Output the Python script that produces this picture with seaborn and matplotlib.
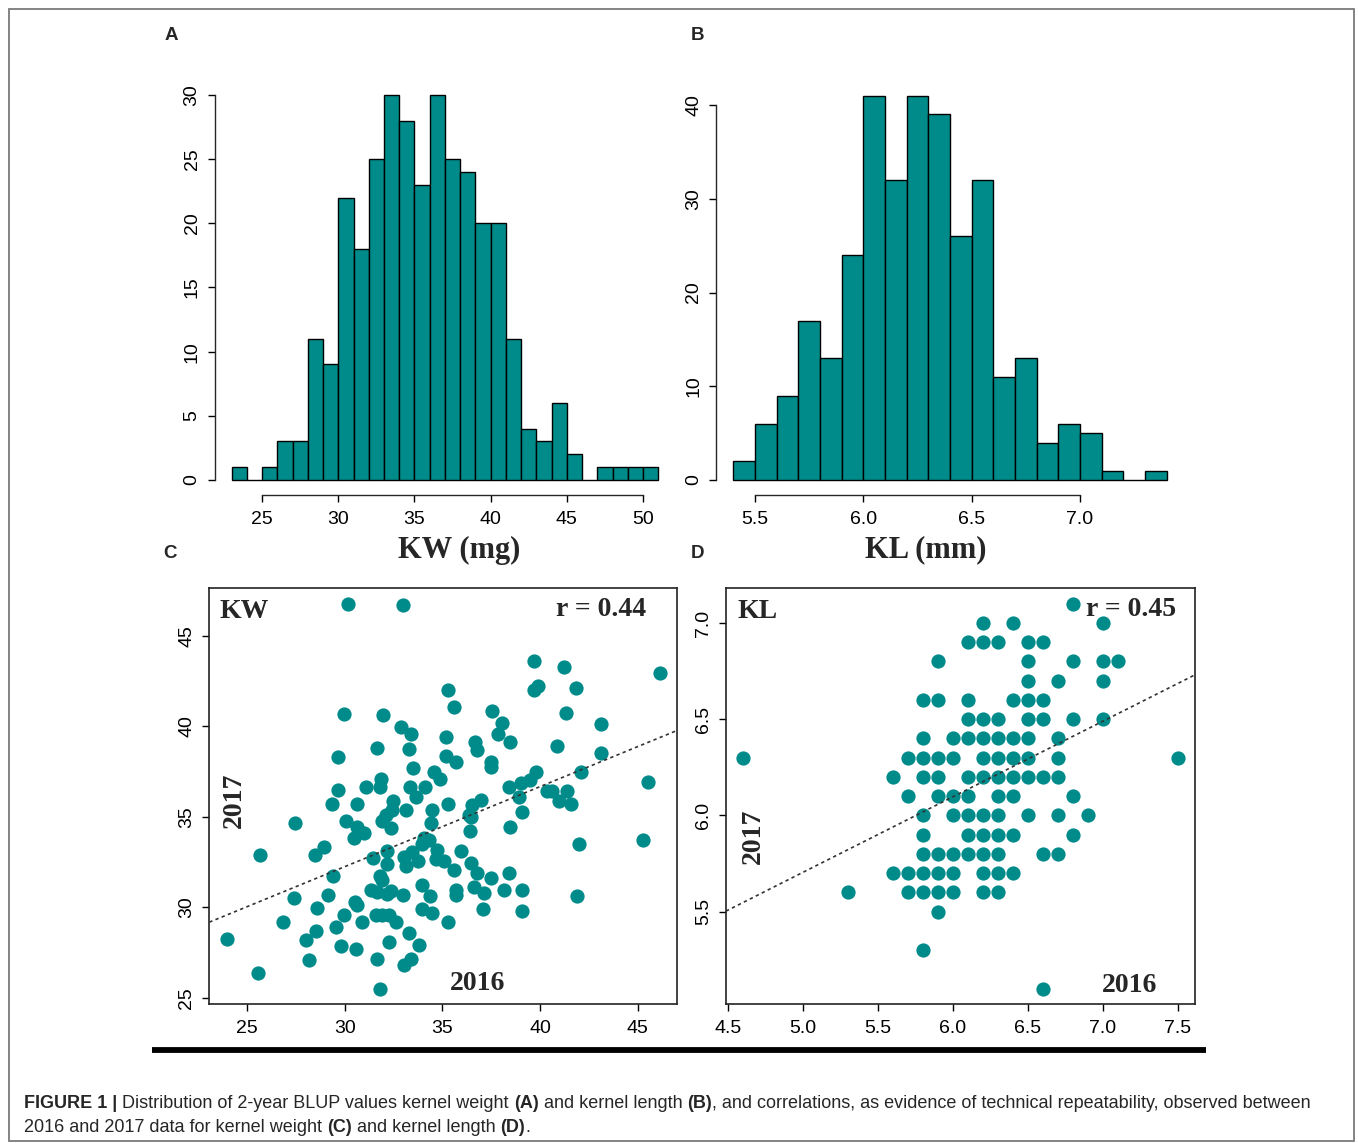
import numpy as np
import pandas as pd
import matplotlib
matplotlib.use("Agg")
import matplotlib.pyplot as plt
import seaborn as sns
from matplotlib.lines import Line2D
from matplotlib.patches import Rectangle
from matplotlib import font_manager

# ---------------- data ----------------
# Panel A: kernel weight histogram (bin width 1 mg)
kw_bin_edges = [23, 24, 25, 26, 27, 28, 29, 30, 31, 32, 33, 34, 35, 36, 37,
                38, 39, 40, 41, 42, 43, 44, 45, 46, 47, 48, 49, 50, 51]
kw_counts = [1, 0, 1, 3, 3, 11, 9, 22, 18, 25, 30, 28, 23, 30, 25, 24, 20, 20,
             11, 4, 3, 6, 2, 0, 1, 1, 1, 1]
kw_xticks = [25, 30, 35, 40, 45, 50]
kw_yticks = [0, 5, 10, 15, 20, 25, 30]

# Panel B: kernel length histogram (bin width 0.1 mm)
kl_bin_edges = [5.4, 5.5, 5.6, 5.7, 5.8, 5.9, 6.0, 6.1, 6.2, 6.3, 6.4, 6.5,
                6.6, 6.7, 6.8, 6.9, 7.0, 7.1, 7.2, 7.3, 7.4]
kl_counts = [2, 6, 9, 17, 13, 24, 41, 32, 41, 39, 26, 32, 11, 13, 4, 6, 5, 1, 0, 1]
kl_xticks = [5.5, 6.0, 6.5, 7.0]
kl_yticks = [0, 10, 20, 30, 40]

# Panel C: KW 2016 vs 2017
kw_2016 = [30.17, 33.00, 39.69, 41.23, 46.14, 35.29, 39.69, 39.90, 41.83, 35.60,
           37.56, 41.31, 29.97, 31.95, 32.87, 33.38, 38.07, 43.11, 35.20, 36.67,
           38.46, 37.85, 31.67, 33.29, 36.79, 40.89, 43.11, 29.66, 35.20, 35.68,
           37.47, 37.47, 31.88, 33.48, 34.57, 34.88, 39.78, 42.08, 31.08, 31.79,
           33.33, 34.10, 38.41, 39.01, 39.49, 40.38, 40.63, 41.40, 45.53, 29.66,
           33.63, 32.49, 30.65, 29.37, 35.29, 36.96, 36.54, 38.92, 40.97, 41.60,
           33.12, 34.49, 32.44, 32.10, 39.10, 36.37, 36.45, 30.05, 27.46, 31.93,
           34.40, 30.65, 32.35, 30.99, 30.48, 38.46, 36.42, 34.06, 34.32, 45.29,
           42.00, 33.94, 34.74, 35.97, 28.94, 28.46, 25.67, 32.18, 33.46, 31.47,
           33.04, 34.66, 35.09, 33.75, 32.18, 33.12, 36.45, 29.42, 31.81, 31.93,
           35.60, 36.79, 38.41, 37.47, 29.15, 27.41, 31.33, 31.67, 32.35, 32.18,
           32.99, 33.98, 34.37, 35.68, 35.68, 36.62, 37.13, 38.16, 39.06, 41.91,
           28.57, 30.53, 30.65, 29.97, 33.98, 34.49, 37.10, 39.06, 26.84, 31.59,
           31.93, 32.27, 32.61, 30.87, 29.57, 35.29, 23.96, 28.52, 28.00, 33.29,
           32.27, 29.80, 33.81, 30.56, 28.17, 31.64, 33.38, 33.04, 25.58, 31.79]
kw_2017 = [46.77, 46.70, 43.58, 43.30, 42.97, 42.01, 42.01, 42.24, 42.11, 41.06,
           40.82, 40.72, 40.69, 40.63, 39.95, 39.58, 40.21, 40.12, 39.40, 39.16,
           39.16, 39.58, 38.79, 38.73, 38.70, 38.92, 38.51, 38.29, 38.38, 38.02,
           38.05, 37.78, 37.09, 37.68, 37.50, 37.09, 37.50, 37.50, 36.67, 36.63,
           36.67, 36.63, 36.67, 36.89, 37.04, 36.43, 36.43, 36.43, 36.91, 36.49,
           36.12, 35.90, 35.71, 35.71, 35.71, 35.93, 35.66, 36.12, 35.90, 35.71,
           35.38, 35.38, 35.38, 35.10, 35.29, 35.10, 34.97, 34.79, 34.68, 34.79,
           34.68, 34.42, 34.37, 34.09, 33.81, 34.42, 34.24, 33.81, 33.72, 33.72,
           33.48, 33.50, 33.17, 33.13, 33.32, 32.89, 32.89, 33.13, 33.08, 32.71,
           32.80, 32.65, 32.58, 32.58, 32.39, 32.28, 32.43, 31.73, 31.73, 31.51,
           32.06, 31.88, 31.88, 31.60, 30.68, 30.50, 30.99, 30.86, 30.92, 30.77,
           30.68, 31.23, 30.62, 30.96, 30.68, 31.14, 30.81, 30.96, 30.96, 30.62,
           29.98, 30.31, 30.13, 29.57, 29.94, 29.67, 29.94, 29.81, 29.21, 29.57,
           29.57, 29.57, 29.21, 29.21, 28.93, 29.21, 28.28, 28.71, 28.19, 28.60,
           28.10, 27.86, 27.92, 27.68, 27.09, 27.18, 27.18, 26.81, 26.39, 25.52]
kw_fit = [18.99, 0.442]          # intercept, slope of the dotted trend line
kw_scatter_ticks = [25, 30, 35, 40, 45]

# Panel D: KL 2016 vs 2017
kl_2016 = [6.8,
           6.2, 6.4, 7.0,
           6.1, 6.2, 6.3, 6.5, 6.6,
           5.9, 6.5, 6.8, 7.0, 7.1,
           6.5, 6.7, 7.0,
           5.8, 5.9, 6.1, 6.4, 6.5, 6.6,
           6.1, 6.2, 6.3, 6.5, 6.6, 6.8, 7.0,
           5.8, 6.0, 6.1, 6.2, 6.3, 6.4, 6.5, 6.7,
           4.6, 5.7, 5.8, 5.9, 6.0, 6.2, 6.3, 6.4, 6.5, 6.7, 7.5,
           5.6, 5.8, 5.9, 6.1, 6.2, 6.3, 6.4, 6.5, 6.6, 6.7,
           5.7, 5.9, 6.0, 6.1, 6.3, 6.4, 6.8,
           5.8, 6.0, 6.1, 6.2, 6.3, 6.5, 6.7, 6.9,
           5.8, 6.1, 6.2, 6.3, 6.4, 6.8,
           5.8, 5.9, 6.0, 6.1, 6.2, 6.3, 6.6, 6.7,
           5.6, 5.7, 5.8, 5.9, 6.0, 6.2, 6.3, 6.4,
           5.3, 5.7, 5.8, 5.9, 6.0, 6.2, 6.3,
           5.9,
           5.8,
           6.6]
kl_2017 = [7.1,
           7.0, 7.0, 7.0,
           6.9, 6.9, 6.9, 6.9, 6.9,
           6.8, 6.8, 6.8, 6.8, 6.8,
           6.7, 6.7, 6.7,
           6.6, 6.6, 6.6, 6.6, 6.6, 6.6,
           6.5, 6.5, 6.5, 6.5, 6.5, 6.5, 6.5,
           6.4, 6.4, 6.4, 6.4, 6.4, 6.4, 6.4, 6.4,
           6.3, 6.3, 6.3, 6.3, 6.3, 6.3, 6.3, 6.3, 6.3, 6.3, 6.3,
           6.2, 6.2, 6.2, 6.2, 6.2, 6.2, 6.2, 6.2, 6.2, 6.2,
           6.1, 6.1, 6.1, 6.1, 6.1, 6.1, 6.1,
           6.0, 6.0, 6.0, 6.0, 6.0, 6.0, 6.0, 6.0,
           5.9, 5.9, 5.9, 5.9, 5.9, 5.9,
           5.8, 5.8, 5.8, 5.8, 5.8, 5.8, 5.8, 5.8,
           5.7, 5.7, 5.7, 5.7, 5.7, 5.7, 5.7, 5.7,
           5.6, 5.6, 5.6, 5.6, 5.6, 5.6, 5.6,
           5.5,
           5.3,
           5.1]
kl_fit = [3.745, 0.392]
kl_scatter_xticks = [4.5, 5.0, 5.5, 6.0, 6.5, 7.0, 7.5]
kl_scatter_yticks = [5.5, 6.0, 6.5, 7.0]

# ---------------- style ----------------
sns.set_theme(style="ticks")
plt.rcParams['font.family'] = ['Liberation Sans', 'DejaVu Sans']
plt.rcParams['axes.linewidth'] = 1.0
TEAL = "#008B8B"
SERIF = ['Liberation Serif', 'DejaVu Serif']
TICK_FS = 14

W, H = 1358, 1143
fig = plt.figure(figsize=(W / 100, H / 100), dpi=100)
fig.patch.set_facecolor("white")


def ax_px(l, t, r, b):
    return fig.add_axes([l / W, 1 - b / H, (r - l) / W, (b - t) / H])


def r_lim(vmin, vmax):
    d = 0.04 * (vmax - vmin)
    return vmin - d, vmax + d


def fig_text(x, y, s, **kw):
    return fig.text(x / W, 1 - y / H, s, **kw)


def style_ticks(ax):
    ax.tick_params(axis='both', direction='out', length=5, width=1.0,
                   colors='black', labelsize=TICK_FS)
    ax.tick_params(axis='y', labelrotation=90, pad=5)
    ax.tick_params(axis='x', pad=6.5)
    for lab in ax.get_yticklabels():
        lab.set_va('center')


def hist_panel(ax, edges, counts, xticks, yticks, fmt):
    edges = [float(e) for e in edges]
    centers = [(a + b) / 2 for a, b in zip(edges[:-1], edges[1:])]
    df = pd.DataFrame({"value": centers, "count": counts})
    sns.histplot(data=df, x="value", weights="count", bins=edges, ax=ax,
                 color=TEAL, alpha=1, edgecolor='black', linewidth=1.0,
                 stat='count')
    ax.set_xlim(*r_lim(min(edges), max(edges)))
    ax.set_ylim(*r_lim(0, max(counts)))
    ax.set_xticks(xticks)
    ax.set_xticklabels([fmt.format(v) for v in xticks])
    ax.set_yticks(yticks)
    ax.set_yticklabels([str(v) for v in yticks])
    ax.set_xlabel("")
    ax.set_ylabel("")
    for s in ('top', 'right'):
        ax.spines[s].set_visible(False)
    ax.spines['left'].set_bounds(yticks[0], yticks[-1])
    ax.spines['bottom'].set_bounds(xticks[0], xticks[-1])
    style_ticks(ax)


def scatter_panel(ax, x, y, fit, xticks, yticks, fmt):
    df = pd.DataFrame({"y2016": x, "y2017": y})
    sns.scatterplot(data=df, x="y2016", y="y2017", ax=ax, color=TEAL, s=105,
                    linewidth=0, marker='o', zorder=2)
    ax.set_xlim(*r_lim(min(x), max(x)))
    ax.set_ylim(*r_lim(min(y), max(y)))
    ax.axline((0, fit[0]), slope=fit[1], color='#333333', lw=1.2,
              linestyle=(0, (2, 2)), zorder=3)
    ax.set_xticks(xticks)
    ax.set_xticklabels([fmt.format(v) for v in xticks])
    ax.set_yticks(yticks)
    ax.set_yticklabels([fmt.format(v) for v in yticks])
    ax.set_xlabel("")
    ax.set_ylabel("")
    for s in ax.spines.values():
        s.set_visible(True)
        s.set_color('#222222')
        s.set_linewidth(1.2)
    style_ticks(ax)


# Panels A & B
axA = ax_px(214.6, 79.6, 675.3, 495.4)
hist_panel(axA, kw_bin_edges, kw_counts, kw_xticks, kw_yticks, "{:g}")
axB = ax_px(716, 80.3, 1184, 495.4)
hist_panel(axB, kl_bin_edges, kl_counts, kl_xticks, kl_yticks, "{:.1f}")

# Panels C & D
axC = ax_px(209.3, 588.3, 677.3, 1004)
scatter_panel(axC, kw_2016, kw_2017, kw_fit, kw_scatter_ticks,
              kw_scatter_ticks, "{:g}")
axD = ax_px(726, 588.3, 1195, 1004)
scatter_panel(axD, kl_2016, kl_2017, kl_fit, kl_scatter_xticks,
              kl_scatter_yticks, "{:.1f}")

# axis titles of the histograms
fig_text(459, 550, "KW (mg)", family=SERIF, fontweight='bold', fontsize=22,
         ha='center', va='center')
fig_text(926, 550, "KL (mm)", family=SERIF, fontweight='bold', fontsize=22,
         ha='center', va='center')

# in-plot annotations
ann = dict(family=SERIF, fontweight='bold', fontsize=20, va='center')
fig_text(220, 611, "KW", ha='left', **ann)
fig_text(646, 610, "r = 0.44", ha='right', **ann)
fig_text(234, 800, "2017", ha='center', rotation=90, **ann)
fig_text(478, 983, "2016", ha='center', **ann)
fig_text(738, 611, "KL", ha='left', **ann)
fig_text(1176, 610, "r = 0.45", ha='right', **ann)
fig_text(753, 836, "2017", ha='center', rotation=90, **ann)
fig_text(1130, 985, "2016", ha='center', **ann)

# panel letters
let = dict(family=['Liberation Sans', 'DejaVu Sans'], fontweight='bold',
           fontsize=13.5, ha='center', va='center')
fig_text(171, 35, "A", **let)
fig_text(698, 35, "B", **let)
fig_text(170, 553, "C", **let)
fig_text(698, 553, "D", **let)

# thick rule and frame
fig.add_artist(Line2D([152 / W, 1206 / W], [1 - 1050 / H, 1 - 1050 / H],
                      transform=fig.transFigure, color='black', lw=4.2,
                      solid_capstyle='butt'))
fig.add_artist(Rectangle((8.5 / W, 1 - 1141 / H), (1354 - 8.5) / W,
                         (1141 - 8.5) / H, transform=fig.transFigure,
                         fill=False, edgecolor='#7a7a7a', lw=1.3))

# caption with mixed bold / regular runs
names = {f.name for f in font_manager.fontManager.ttflist}
cap_family = ['Liberation Sans Narrow', 'Liberation Sans'] \
    if 'Liberation Sans Narrow' in names else ['Liberation Sans', 'DejaVu Sans']
renderer = fig.canvas.get_renderer()

line1 = [("FIGURE 1 |", True), None,
         ("Distribution of 2-year BLUP values kernel weight", False), None,
         ("(A)", True), None, ("and kernel length", False), None,
         ("(B)", True),
         (", and correlations, as evidence of technical repeatability, observed between", False)]
line2 = [("2016 and 2017 data for kernel weight", False), None, ("(C)", True),
         None, ("and kernel length", False), None, ("(D)", True), (".", False)]


def width_of(s, size, bold):
    t = fig.text(0, 0, s, fontsize=size, family=cap_family,
                 fontweight='bold' if bold else 'normal')
    w = t.get_window_extent(renderer=renderer).width
    t.remove()
    return w


def draw_line(runs, x0, y, size, draw=True):
    sp = width_of("a a", size, False) - width_of("aa", size, False)
    x = x0
    for r in runs:
        if r is None:
            x += sp
            continue
        s, b = r
        if draw:
            t = fig_text(x, y, s, fontsize=size, family=cap_family,
                         fontweight='bold' if b else 'normal', ha='left',
                         va='center')
            w = t.get_window_extent(renderer=renderer).width
        else:
            w = width_of(s, size, b)
        x += w
    return x - x0


base = 12.5
w1 = draw_line(line1, 24, 1103, base, draw=False)
cap_size = base * (1313 - 24) / w1
draw_line(line1, 24, 1103, cap_size)
draw_line(line2, 24, 1128, cap_size)

fig.savefig("out.png", dpi=100, facecolor='white')
